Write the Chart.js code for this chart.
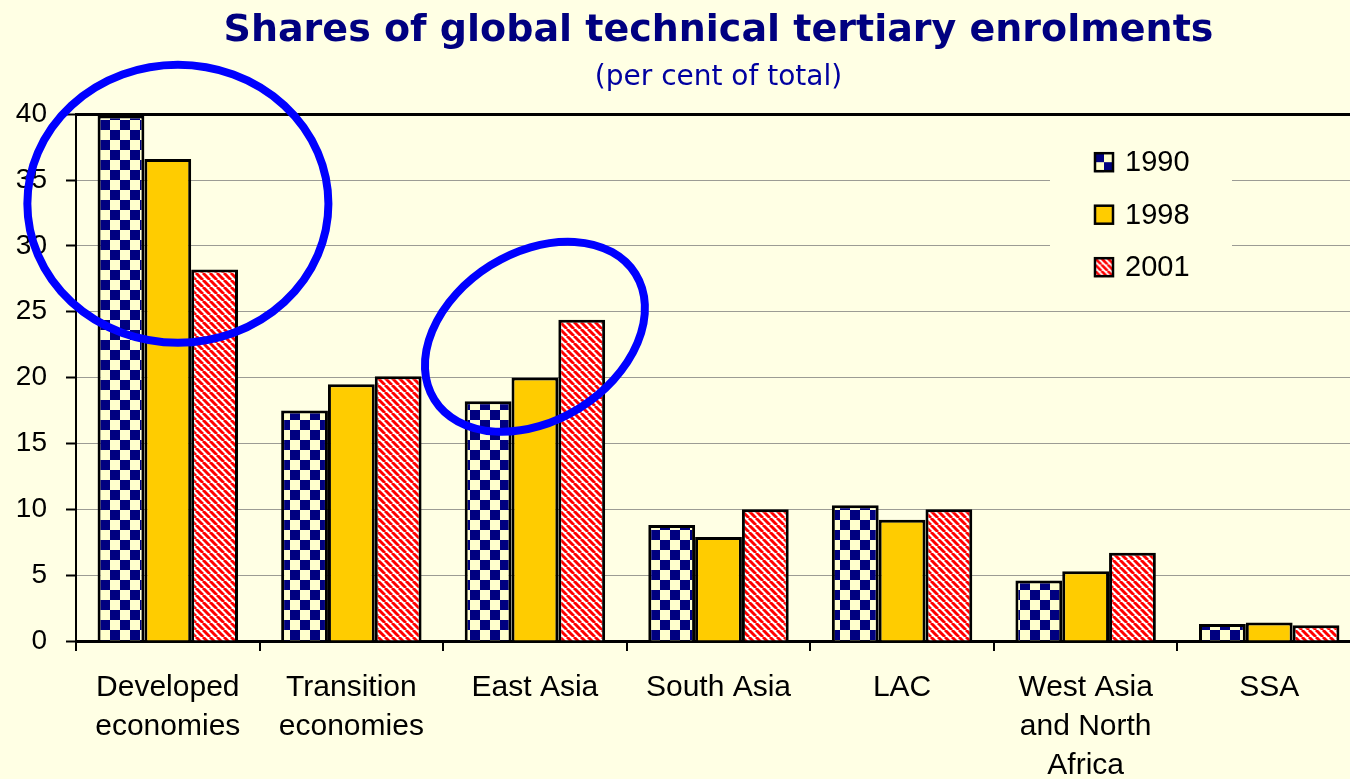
<!DOCTYPE html>
<html>
<head>
<meta charset="utf-8">
<title>Shares of global technical tertiary enrolments</title>
<script src="https://cdn.jsdelivr.net/npm/chart.js@4.4.1/dist/chart.umd.min.js"></script>
<style>
    html, body { margin: 0; padding: 0; overflow: hidden; background: #FFFFE4; }
    #wrap { position: relative; width: 1361px; height: 779px; }
</style>
</head>
<body>
<div id="wrap"><canvas id="sharesChart"></canvas></div>
<script>
// chart values
const regions = [['Developed', 'economies'], ['Transition', 'economies'], 'East Asia', 'South Asia', 'LAC', ['West Asia', 'and North', 'Africa'], 'SSA'];
const years = ['1990', '1998', '2001'];
const shares1990 = [39.9, 17.5, 18.2, 8.8, 10.3, 4.6, 1.3];
const shares1998 = [36.6, 19.5, 20.0, 7.9, 9.2, 5.3, 1.4];
const shares2001 = [28.2, 20.1, 24.4, 10.0, 10.0, 6.7, 1.2];
const yMin = 0, yMax = 40, yStep = 5;

const paper = '#FFFFE4';

// blue rings drawn round two groups, placed through the scales
const rings = [
    { index: 0, shift: 0.055, value: 33.2, rx: 0.82, ry: 0.757, angle: 0 },
    { index: 2, shift: 0, value: 23.1, rx: 0.646, ry: 0.458, angle: -32 }
];

function checkerPattern(ctx) {
    let tile = document.createElement('canvas');
    tile.width = tile.height = 20;
    let c = tile.getContext('2d');
    c.fillStyle = '#FFFFCC';
    c.fillRect(0, 0, 20, 20);
    c.fillStyle = '#000080';
    c.fillRect(0, 0, 10, 10);
    c.fillRect(10, 10, 10, 10);
    return ctx.createPattern(tile, 'repeat');
}

function stripePattern(ctx) {
    let p = 7;
    let tile = document.createElement('canvas');
    tile.width = tile.height = p;
    let c = tile.getContext('2d');
    c.fillStyle = '#FFFFFF';
    c.fillRect(0, 0, p, p);
    c.strokeStyle = '#FF0000';
    c.lineWidth = 2.9;
    c.beginPath();
    [-p, 0, p].forEach(x0 => {
        c.moveTo(x0, 0);
        c.lineTo(x0 + p, p);
    });
    c.stroke();
    return ctx.createPattern(tile, 'repeat');
}

const insideLegend = {
    id: 'insideLegend',
    afterDraw(chart) {
        let { ctx, chartArea } = chart;
        ctx.save();
        ctx.fillStyle = paper;
        ctx.fillRect(chartArea.right - 311, chartArea.top + 16, 182, 170);
        chart.data.datasets.forEach((ds, i) => {
            let bx = chartArea.right - 266;
            let by = chartArea.top + 39 + i * 52.5;
            ctx.save();
            ctx.translate(bx, by);
            ctx.scale(0.9, 0.9);
            ctx.fillStyle = ds.backgroundColor;
            ctx.fillRect(0, 0, 21, 21);
            ctx.restore();
            ctx.lineWidth = 2.5;
            ctx.strokeStyle = '#000';
            ctx.strokeRect(bx, by, 18, 18);
            ctx.fillStyle = '#000';
            ctx.font = '29px "Liberation Sans", Arial, sans-serif';
            ctx.textAlign = 'left';
            ctx.textBaseline = 'middle';
            ctx.fillText(ds.label, bx + 30, by + 10);
        });
        ctx.restore();
    }
};

const ringPlugin = {
    id: 'rings',
    afterDraw(chart) {
        let { ctx } = chart;
        let x = chart.scales.x, y = chart.scales.y;
        let band = x.width / chart.data.labels.length;
        ctx.save();
        ctx.strokeStyle = '#0000FF';
        ctx.lineWidth = 8;
        rings.forEach(r => {
            ctx.beginPath();
            ctx.ellipse(x.getPixelForValue(r.index) + r.shift * band, y.getPixelForValue(r.value),
                r.rx * band, r.ry * band, r.angle * Math.PI / 180, 0, Math.PI * 2);
            ctx.stroke();
        });
        ctx.restore();
    }
};

let canvas = document.getElementById('sharesChart');
let ctx = canvas.getContext('2d');

let fills = [checkerPattern(ctx), '#FFCC00', stripePattern(ctx)];
let series = [shares1990, shares1998, shares2001];

let sharesChart = new Chart(ctx, {
    type: 'bar',
    data: {
        labels: regions,
        datasets: years.map((year, i) => ({
            label: year,
            data: series[i],
            backgroundColor: fills[i],
            borderColor: '#000000',
            borderWidth: 3,
            categoryPercentage: 0.765,
            barPercentage: 1.0
        }))
    },
    options: {
        responsive: true,
        maintainAspectRatio: false,
        animation: false,
        layout: { padding: 0 },
        plugins: {
            legend: { display: false },
            tooltip: { enabled: false },
            title: {
                display: true,
                fullSize: false,
                text: 'Shares of global technical tertiary enrolments',
                color: '#000080',
                font: { family: '"DejaVu Sans", Verdana, sans-serif', size: 38, weight: 'bold' },
                padding: { top: 8, bottom: 0 }
            },
            subtitle: {
                display: true,
                fullSize: false,
                text: '(per cent of total)',
                color: '#0000A0',
                font: { family: '"DejaVu Sans", Verdana, sans-serif', size: 28, weight: 'normal' },
                padding: { top: 7, bottom: 20 }
            }
        },
        scales: {
            x: {
                offset: true,
                border: { display: true, color: '#000', width: 3 },
                grid: {
                    display: true,
                    offset: true,
                    drawOnChartArea: false,
                    drawTicks: true,
                    tickLength: 10,
                    color: '#000',
                    lineWidth: 2
                },
                ticks: {
                    color: '#000',
                    padding: 17,
                    maxRotation: 0,
                    autoSkip: false,
                    font: { family: '"Liberation Sans", Arial, sans-serif', size: 30, lineHeight: 1.3 }
                },
                afterFit(scale) { scale.height = 138; }
            },
            y: {
                min: yMin,
                max: yMax,
                border: { display: true, color: '#000', width: 2 },
                grid: {
                    color: c => c.tick && c.tick.value === yMax ? '#000' : '#9C9C94',
                    lineWidth: c => c.tick && c.tick.value === yMax ? 3 : 1,
                    tickColor: '#000',
                    tickWidth: 2,
                    tickLength: 10
                },
                ticks: {
                    stepSize: yStep,
                    color: '#000',
                    padding: 19,
                    font: { family: '"Liberation Sans", Arial, sans-serif', size: 28 }
                },
                afterFit(scale) { scale.width = 76; }
            }
        }
    },
    plugins: [insideLegend, ringPlugin]
});
</script>
</body>
</html>
